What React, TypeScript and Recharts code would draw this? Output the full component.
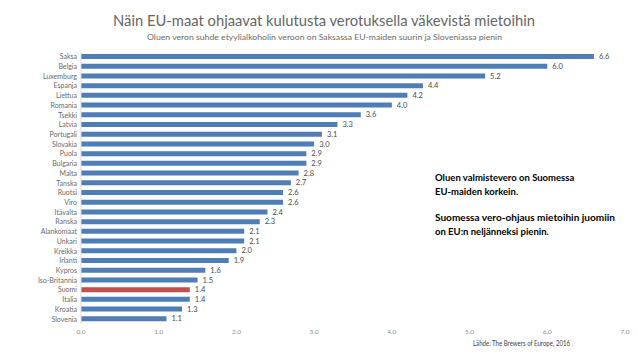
import React from 'react';
import { BarChart, Bar, XAxis, YAxis, Cell, LabelList } from 'recharts';

const countries = ['Saksa','Belgia','Luxemburg','Espanja','Liettua','Romania','Tsekki','Latvia','Portugali','Slovakia','Puola','Bulgaria','Malta','Tanska','Ruotsi','Viro','Itävalta','Ranska','Alankomaat','Unkari','Kreikka','Irlanti','Kypros','Iso-Britannia','Suomi','Italia','Kroatia','Slovenia'];
const ratios = [6.6,6.0,5.2,4.4,4.2,4.0,3.6,3.3,3.1,3.0,2.9,2.9,2.8,2.7,2.6,2.6,2.4,2.3,2.1,2.1,2.0,1.9,1.6,1.5,1.4,1.4,1.3,1.1];
const xTicks = [0,1,2,3,4,5,6,7];
const highlight = 'Suomi';

const title = 'Näin EU-maat ohjaavat kulutusta verotuksella väkevistä mietoihin';
const subtitle = 'Oluen veron suhde etyylialkoholin veroon on Saksassa EU-maiden suurin ja Sloveniassa pienin';
const noteLines = ['Oluen valmistevero on Suomessa', 'EU-maiden korkein.', 'Suomessa vero-ohjaus mietoihin juomiin', 'on EU:n neljänneksi pienin.'];
const source = 'Lähde: The Brewers of Europe, 2016';

const data = countries.map((name, i) => ({ name, value: ratios[i] }));

const FONT = 'Lato, "Open Sans", sans-serif';

export default function App() {
  return (
    <div style={{ position: 'absolute', left: 0, top: 0, width: 638, height: 359, background: '#fff', fontFamily: FONT }}>
      <BarChart width={638} height={359} data={data} layout="vertical" margin={{ top: 52, right: 13, bottom: 15, left: 0 }} barCategoryGap={0}>
        <XAxis type="number" domain={[0, 7]} ticks={xTicks} axisLine={false} tickLine={false} tickSize={3}
          tickFormatter={(v: number) => v.toFixed(1)} tick={{ fontSize: 6.5, fill: '#8c8c8c', fontFamily: FONT }} height={20} interval={0} />
        <YAxis type="category" dataKey="name" width={81} axisLine={{ stroke: '#d9d9d9' }} tickLine={false} tickSize={0} tickMargin={4}
          tick={{ fontSize: 7, fill: '#6a6a6a', fontFamily: FONT }} interval={0} />
        <Bar dataKey="value" barSize={5} isAnimationActive={false}>
          {data.map((d) => (
            <Cell key={d.name} fill={d.name === highlight ? '#c0504d' : '#4f7db6'} />
          ))}
          <LabelList dataKey="value" position="right" offset={5} formatter={(v: number) => v.toFixed(1)}
            style={{ fontSize: 7.5, fill: '#4a4a4a', fontFamily: FONT }} />
        </Bar>
      </BarChart>
      <svg width={638} height={359} style={{ position: 'absolute', left: 0, top: 0, pointerEvents: 'none' }}>
        <text x={324} y={26} textAnchor="middle" fontSize={15} fill="#666666" fontFamily={FONT} textLength={422} lengthAdjust="spacingAndGlyphs">{title}</text>
        <text x={324.5} y={40} textAnchor="middle" fontSize={7.5} fill="#6a6a6a" fontFamily={FONT} textLength={355} lengthAdjust="spacingAndGlyphs">{subtitle}</text>
        <text x={435} y={181} fontSize={9.5} fontWeight={700} fill="#000" fontFamily={FONT}>{noteLines[0]}</text>
        <text x={435} y={195} fontSize={9.5} fontWeight={700} fill="#000" fontFamily={FONT}>{noteLines[1]}</text>
        <text x={435} y={221} fontSize={9.5} fontWeight={700} fill="#000" fontFamily={FONT} textLength={180} lengthAdjust="spacingAndGlyphs">{noteLines[2]}</text>
        <text x={435} y={235} fontSize={9.5} fontWeight={700} fill="#000" fontFamily={FONT}>{noteLines[3]}</text>
        <text x={570} y={346} textAnchor="end" fontSize={7} fill="#404040" fontFamily={FONT} textLength={97} lengthAdjust="spacingAndGlyphs">{source}</text>
      </svg>
    </div>
  );
}
